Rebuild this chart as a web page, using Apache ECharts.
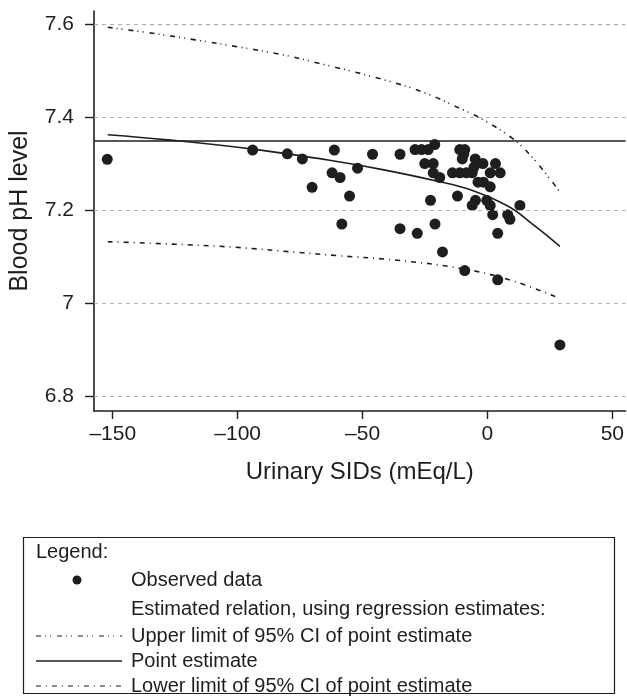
<!DOCTYPE html>
<html>
<head>
<meta charset="utf-8">
<style>html,body{margin:0;padding:0;background:#fff;}#c{width:627px;height:696px;}</style>
<script src="https://cdn.jsdelivr.net/npm/echarts@6/dist/echarts.min.js"></script>
</head>
<body>
<div id="c"></div>
<script>
// ---- data ----
const xTicks = [-150, -100, -50, 0, 50];
const yTicks = [6.8, 7, 7.2, 7.4, 7.6];
const thresholdPH = 7.35;
const observedSID = [-152.2,-94.0,-80.1,-74.1,-70.2,-61.3,-62.2,-59.0,-52.0,-55.2,-58.3,-46.0,-35.0,-35.0,-28.1,-29.0,-26.4,-23.7,-21.1,-25.1,-21.7,-21.7,-19.1,-22.8,-21.0,-18.0,-12.0,-14.0,-11.1,-8.5,-6.1,-11.1,-9.1,-9.5,-10.1,-4.9,-5.4,-1.8,3.2,1.1,5.1,-3.8,-1.6,1.1,-4.8,-6.1,-0.3,1.1,2.1,8.1,9.0,13.0,4.1,-9.1,4.1,29.0];
const observedPH  = [7.309,7.329,7.321,7.310,7.249,7.329,7.280,7.270,7.290,7.230,7.170,7.320,7.320,7.160,7.150,7.330,7.330,7.330,7.341,7.300,7.300,7.280,7.270,7.221,7.170,7.110,7.230,7.280,7.280,7.280,7.280,7.330,7.330,7.320,7.310,7.310,7.292,7.300,7.300,7.280,7.280,7.260,7.260,7.250,7.221,7.210,7.221,7.210,7.190,7.190,7.180,7.210,7.150,7.070,7.050,6.910];
const pointSID = [-152,-128,-94,-62,-42,-20,-6,9,18,23,29];
const pointPH  = [7.362,7.351,7.331,7.306,7.287,7.262,7.242,7.206,7.170,7.149,7.122];
const upperSID = [-152,-134,-117,-100,-83,-67,-42,-25,-10,-2,10,18,29];
const upperPH  = [7.593,7.580,7.566,7.551,7.535,7.515,7.481,7.452,7.416,7.395,7.354,7.313,7.239];
const lowerSID = [-152,-127,-101,-76,-60,-36,-10,10,29];
const lowerPH  = [7.132,7.127,7.120,7.109,7.102,7.092,7.074,7.048,7.010];
const legendTitle = 'Legend:';
const legendRows = ['Observed data','Estimated relation, using regression estimates:','Upper limit of 95% CI of point estimate','Point estimate','Lower limit of 95% CI of point estimate'];

const zip = (a, b) => a.map((v, i) => [v, b[i]]);
const FONT = '"Liberation Sans", Arial, Helvetica, sans-serif';
const INK = '#1e1e1e';
const upperDash = [5, 4, 1, 4, 1, 6];
const lowerDash = [5, 5, 1, 5];

const chart = echarts.init(document.getElementById('c'), null, {renderer: 'canvas'});

// legend graphics
const lx0 = 36, lx1 = 122, tx = 131;
const rowY = [580, 609, 636, 661, 686];
const g = [
  {type: 'rect', shape: {x: 23.5, y: 537.5, width: 591, height: 156}, style: {fill: '#fff', stroke: INK, lineWidth: 1.2}},
  {type: 'text', x: 36, y: 552, style: {text: legendTitle, font: '20px ' + FONT, fill: INK, textVerticalAlign: 'middle'}},
  {type: 'circle', shape: {cx: 77, cy: rowY[0], r: 4.5}, style: {fill: INK}},
  {type: 'line', shape: {x1: lx0, y1: rowY[2], x2: lx1, y2: rowY[2]}, style: {stroke: INK, lineWidth: 1.2, lineDash: upperDash}},
  {type: 'line', shape: {x1: lx0, y1: rowY[3], x2: lx1, y2: rowY[3]}, style: {stroke: INK, lineWidth: 1.4}},
  {type: 'line', shape: {x1: lx0, y1: rowY[4], x2: lx1, y2: rowY[4]}, style: {stroke: INK, lineWidth: 1.2, lineDash: lowerDash}}
];
legendRows.forEach((t, i) => {
  g.push({type: 'text', x: tx, y: rowY[i], style: {text: t, font: '20px ' + FONT, fill: INK, textVerticalAlign: 'middle'}});
});

const option = {
  animation: false,
  backgroundColor: '#fff',
  textStyle: {fontFamily: FONT},
  grid: {left: 92, right: 0, top: 11, bottom: 285, containLabel: false},
  xAxis: {
    type: 'value', min: -157.5, max: 55.3,
    name: 'Urinary SIDs (mEq/L)', nameLocation: 'middle', nameGap: 49,
    nameTextStyle: {fontSize: 24, color: INK, fontFamily: FONT},
    axisLine: {show: true, onZero: false, lineStyle: {color: INK, width: 1.6}},
    axisTick: {show: true, length: 8, lineStyle: {color: INK, width: 1.4}, customValues: xTicks},
    axisLabel: {fontSize: 21, color: INK, margin: 13, fontFamily: FONT, customValues: xTicks,
      formatter: v => String(v).replace('-', '\u2013')},
    splitLine: {show: false}
  },
  yAxis: {
    type: 'value', min: 6.768, max: 7.628,
    name: 'Blood pH level', nameLocation: 'middle', nameGap: 61,
    nameTextStyle: {fontSize: 25, color: INK, fontFamily: FONT},
    axisLine: {show: true, onZero: false, lineStyle: {color: INK, width: 1.6}},
    axisTick: {show: true, length: 9, lineStyle: {color: INK, width: 1.4}, customValues: yTicks},
    axisLabel: {fontSize: 21, color: INK, margin: 20, fontFamily: FONT, customValues: yTicks,
      formatter: v => (Math.abs(v - 7) < 1e-9 ? '7' : v.toFixed(1))},
    splitLine: {show: false}
  },
  series: [
    {
      type: 'line', data: [], z: 1, silent: true,
      markLine: {silent: true, symbol: 'none', label: {show: false},
        lineStyle: {color: '#b0b0b0', width: 1.2, type: [4, 4]},
        data: yTicks.map(v => ({yAxis: v}))}
    },
    {
      type: 'line', data: [], z: 2, silent: true,
      markLine: {silent: true, symbol: 'none', label: {show: false},
        lineStyle: {color: INK, width: 1.5, type: 'solid'},
        data: [{yAxis: thresholdPH}]}
    },
    {type: 'line', data: zip(upperSID, upperPH), smooth: 0.4, showSymbol: false, z: 3,
      lineStyle: {color: INK, width: 1.6, type: upperDash}},
    {type: 'line', data: zip(pointSID, pointPH), smooth: 0.4, showSymbol: false, z: 3,
      lineStyle: {color: INK, width: 1.6, type: 'solid'}},
    {type: 'line', data: zip(lowerSID, lowerPH), smooth: 0.4, showSymbol: false, z: 3,
      lineStyle: {color: INK, width: 1.6, type: lowerDash}},
    {type: 'scatter', data: zip(observedSID, observedPH), symbol: 'circle', symbolSize: 11, z: 4,
      itemStyle: {color: INK, opacity: 1}}
  ],
  graphic: g
};
chart.setOption(option);
</script>
</body>
</html>
